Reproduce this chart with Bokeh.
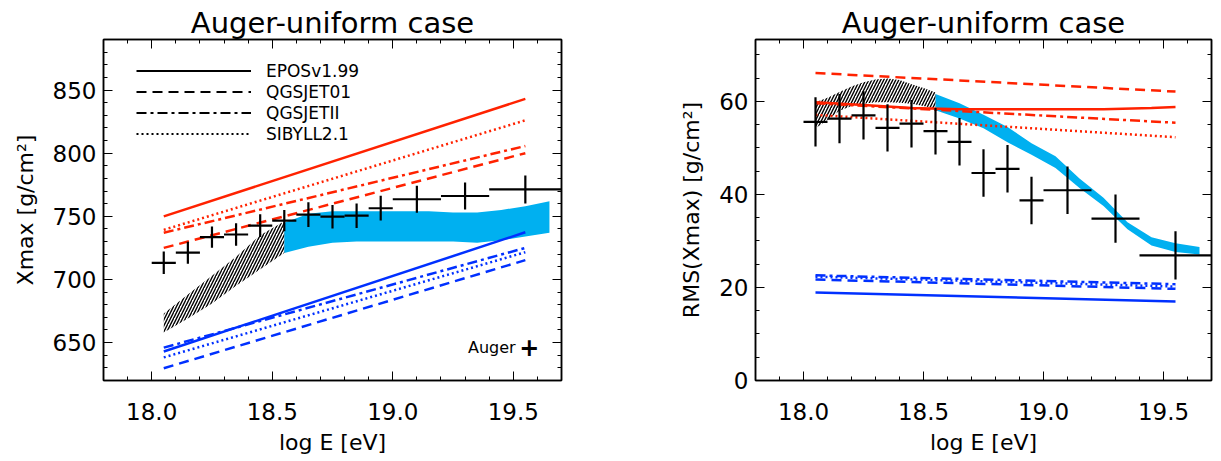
from bokeh.plotting import figure
from bokeh.layouts import row
from bokeh.models import (Range1d, FixedTicker, LinearAxis, Legend, LegendItem, Label,
                          ColumnDataSource, PrintfTickFormatter, CustomJSTickFormatter)
from bokeh.embed import file_html
from bokeh.resources import INLINE

FONT = "DejaVu Sans"
RED = "#ff2200"
BLUE = "#0030ff"
SKY = "#00b0f0"

# ---------------- data: Auger points ----------------
auger_logE = [18.05, 18.15, 18.25, 18.35, 18.45, 18.55, 18.65, 18.75, 18.85, 18.95, 19.10, 19.30, 19.55]
auger_dlogE = [0.05, 0.05, 0.05, 0.05, 0.05, 0.05, 0.05, 0.05, 0.05, 0.05, 0.10, 0.10, 0.15]
auger_xmax = [713.2, 721.2, 733.5, 735.6, 742.7, 746.6, 751.3, 749.7, 750.5, 756.4, 763.5, 766.1, 771.3]
auger_xmax_err = [8.9, 8.7, 8.4, 9.0, 9.0, 8.4, 9.8, 9.3, 9.7, 9.8, 10.7, 10.7, 11.1]
auger_rms = [55.6, 56.3, 57.0, 54.3, 55.2, 53.6, 51.3, 44.6, 45.5, 38.7, 40.9, 34.8, 26.9]
auger_rms_err = [5.3, 5.3, 5.2, 5.1, 5.1, 5.0, 5.1, 5.1, 5.1, 5.1, 5.1, 5.2, 5.2]

# ---------------- data: model lines (proton = red, iron = blue) ----------------
model_logE = [18.05, 19.55]
xmax_p_epos = [750.0, 843.0]
xmax_p_qgs01 = [725.0, 800.0]
xmax_p_qgsII = [737.0, 805.7]
xmax_p_sibyll = [739.3, 826.0]
xmax_fe_epos = [643.0, 737.4]
xmax_fe_qgs01 = [629.7, 715.3]
xmax_fe_qgsII = [646.0, 725.0]
xmax_fe_sibyll = [638.3, 721.6]

rms_epos_logE = [18.05, 18.25, 18.45, 18.65, 18.85, 19.05, 19.25, 19.45, 19.55]
rms_p_epos = [59.8, 59.2, 58.6, 58.3, 58.3, 58.3, 58.3, 58.6, 58.8]
rms_p_qgs01 = [66.1, 62.1]
rms_p_qgsII = [59.6, 55.4]
rms_p_sibyll = [57.1, 52.3]
rms_fe_epos = [18.9, 17.0]
rms_fe_qgs01 = [21.7, 19.7]
rms_fe_qgsII = [22.6, 20.7]
rms_fe_sibyll = [22.3, 20.2]

# ---------------- data: model bands ----------------
hatch_logE = [18.05, 18.15, 18.25, 18.35, 18.45, 18.55]
hatch_xmax_hi = [673.0, 688.0, 703.0, 718.0, 735.0, 746.0]
hatch_xmax_lo = [658.0, 669.0, 681.0, 695.0, 708.0, 721.0]

hatch_rms_logE = [18.05, 18.10, 18.15, 18.20, 18.25, 18.30, 18.35, 18.40, 18.45, 18.50, 18.55]
hatch_rms_hi = [59.8, 60.8, 62.0, 63.2, 64.1, 64.7, 64.9, 64.6, 63.7, 62.9, 61.9]
hatch_rms_lo = [54.2, 56.0, 58.0, 59.0, 59.5, 59.8, 59.8, 59.7, 59.5, 59.0, 58.4]

band_logE = [18.55, 18.65, 18.75, 18.85, 18.95, 19.05, 19.15, 19.25, 19.35, 19.45, 19.55, 19.65]
band_xmax_hi = [745, 752, 754, 754, 754, 754, 754, 753, 753, 755, 758, 762]
band_xmax_lo = [721, 726, 729, 730, 730, 730, 730, 730, 729, 731, 734, 737]
band_rms_hi = [61.6, 59.6, 57.1, 54.5, 51.0, 48.2, 43.4, 39.3, 34.0, 30.8, 29.5, 28.7]
band_rms_lo = [58.1, 56.3, 54.2, 51.2, 48.5, 45.7, 41.4, 37.5, 32.5, 29.0, 27.6, 27.1]

# ---------------- ticks / labels ----------------
x_major = [18.0, 18.5, 19.0, 19.5]
x_minor = [round(17.8 + 0.1 * i, 1) for i in range(20)]
xmax_major = [650, 700, 750, 800, 850]
xmax_minor = list(range(620, 891, 10))
rms_major = [0, 20, 40, 60]
rms_minor = list(range(0, 74, 5))

model_names = ["EPOSv1.99", "QGSJET01", "QGSJETII", "SIBYLL2.1"]
dashes = ["solid", "10 6", "10 4 3 4", "2 3"]
TITLE = "Auger-uniform case"


def make_fig(width, border_left, border_right, yrange, ymajor, yminor, ylabel):
    p = figure(width=width, height=457, x_range=Range1d(17.8, 19.7), y_range=Range1d(*yrange),
               output_backend="svg", toolbar_location=None,
               min_border_left=border_left, min_border_right=border_right,
               min_border_top=39, min_border_bottom=73)
    p.title.text = TITLE
    p.title.align = "center"
    p.title.text_font = FONT
    p.title.text_font_size = "29px"
    p.title.text_font_style = "normal"
    p.title.text_color = "black"
    p.title.standoff = 0
    p.grid.visible = False
    p.outline_line_color = "black"
    p.outline_line_width = 1.5
    p.background_fill_color = "white"
    p.border_fill_color = "white"

    p.xaxis.ticker = FixedTicker(ticks=x_major, minor_ticks=x_minor)
    p.xaxis.formatter = PrintfTickFormatter(format="%.1f")
    p.xaxis.axis_label = "log E [eV]"
    p.yaxis.ticker = FixedTicker(ticks=ymajor, minor_ticks=yminor)
    p.yaxis.formatter = PrintfTickFormatter(format="%d")
    p.yaxis.axis_label = ylabel
    for ax in (p.xaxis[0], p.yaxis[0]):
        ax.major_tick_in = 9
        ax.major_tick_out = 0
        ax.minor_tick_in = 4
        ax.minor_tick_out = 0
        ax.axis_line_color = "black"
        ax.axis_line_width = 1.5
        ax.major_tick_line_color = "black"
        ax.minor_tick_line_color = "black"
        ax.major_label_text_font = FONT
        ax.major_label_text_font_size = "23px"
        ax.major_label_text_color = "black"
        ax.axis_label_text_font = FONT
        ax.axis_label_text_font_size = "22px"
        ax.axis_label_text_font_style = "normal"
        ax.axis_label_text_color = "black"
    p.xaxis.major_label_standoff = 22
    p.xaxis.axis_label_standoff = 7
    p.yaxis.major_label_standoff = 7
    p.yaxis.axis_label_standoff = 12

    top = LinearAxis(ticker=FixedTicker(ticks=x_major, minor_ticks=x_minor),
                     formatter=CustomJSTickFormatter(code="return ''"))
    right = LinearAxis(ticker=FixedTicker(ticks=ymajor, minor_ticks=yminor),
                       formatter=CustomJSTickFormatter(code="return ''"))
    for ax in (top, right):
        ax.major_tick_in = 9
        ax.major_tick_out = 0
        ax.minor_tick_in = 4
        ax.minor_tick_out = 0
        ax.major_label_standoff = 0
        ax.major_label_text_font_size = "1px"
        ax.axis_line_color = "black"
        ax.axis_line_width = 1.5
    p.add_layout(top, "above")
    p.add_layout(right, "right")
    return p


def add_crosses(p, x, dx, y, dy):
    src = ColumnDataSource(dict(
        x=x, y=y,
        xl=[a - b for a, b in zip(x, dx)], xh=[a + b for a, b in zip(x, dx)],
        yl=[a - b for a, b in zip(y, dy)], yh=[a + b for a, b in zip(y, dy)]))
    p.segment(x0="xl", y0="y", x1="xh", y1="y", source=src, line_color="black", line_width=2.2)
    p.segment(x0="x", y0="yl", x1="x", y1="yh", source=src, line_color="black", line_width=2.2)


# ================= left: <Xmax> =================
p1 = make_fig(639, 103, 78, (620, 890), xmax_major, xmax_minor, "Xmax [g/cm²]")

p1.varea(x=band_logE, y1=band_xmax_lo, y2=band_xmax_hi, fill_color=SKY)
p1.varea(x=hatch_logE, y1=hatch_xmax_lo, y2=hatch_xmax_hi, fill_alpha=0,
         hatch_pattern="/", hatch_color="black", hatch_scale=6, hatch_weight=1.4)

for vals, dash in zip([xmax_p_epos, xmax_p_qgs01, xmax_p_qgsII, xmax_p_sibyll], dashes):
    p1.line(model_logE, vals, line_color=RED, line_width=2.5, line_dash=dash)
for vals, dash in zip([xmax_fe_epos, xmax_fe_qgs01, xmax_fe_qgsII, xmax_fe_sibyll], dashes):
    p1.line(model_logE, vals, line_color=BLUE, line_width=2.5, line_dash=dash)

add_crosses(p1, auger_logE, auger_dlogE, auger_xmax, auger_xmax_err)

# legend keys: black line styles (renderers kept off-screen, only the legend shows them)
legend_items = []
for name, dash in zip(model_names, dashes):
    r = p1.line(x=[0.0, 1.0], y=[0.0, 0.0], line_color="black", line_width=2, line_dash=dash)
    legend_items.append(LegendItem(label=name, renderers=[r]))
legend = Legend(items=legend_items, location=(33, 236), glyph_width=115, glyph_height=21,
                label_height=21, spacing=0, padding=0, margin=0, label_standoff=15,
                border_line_color=None, background_fill_alpha=0,
                label_text_font=FONT, label_text_font_size="17px", label_text_color="black")
p1.add_layout(legend)

p1.add_layout(Label(x=19.51, y=646.5, text="Auger", text_align="right", text_baseline="middle",
                    text_font=FONT, text_font_size="16px", text_color="black"))
p1.add_layout(Label(x=19.566, y=646.5, text="+", text_align="center", text_baseline="middle",
                    text_font=FONT, text_font_size="24px", text_font_style="bold",
                    text_color="black"))

# ================= right: RMS(Xmax) =================
p2 = make_fig(576, 116, 4, (0, 73.3), rms_major, rms_minor, "RMS(Xmax) [g/cm²]")

p2.varea(x=band_logE, y1=band_rms_lo, y2=band_rms_hi, fill_color=SKY)
p2.varea(x=hatch_rms_logE, y1=hatch_rms_lo, y2=hatch_rms_hi, fill_alpha=0,
         hatch_pattern="/", hatch_color="black", hatch_scale=6, hatch_weight=1.4)

p2.line(rms_epos_logE, rms_p_epos, line_color=RED, line_width=2.5)
for vals, dash in zip([rms_p_qgs01, rms_p_qgsII, rms_p_sibyll], dashes[1:]):
    p2.line(model_logE, vals, line_color=RED, line_width=2.5, line_dash=dash)
for vals, dash in zip([rms_fe_epos, rms_fe_qgs01, rms_fe_qgsII, rms_fe_sibyll], dashes):
    p2.line(model_logE, vals, line_color=BLUE, line_width=2.5, line_dash=dash)

add_crosses(p2, auger_logE, auger_dlogE, auger_rms, auger_rms_err)

layout = row(p1, p2)
open("out.html", "w").write(file_html(layout, INLINE))
